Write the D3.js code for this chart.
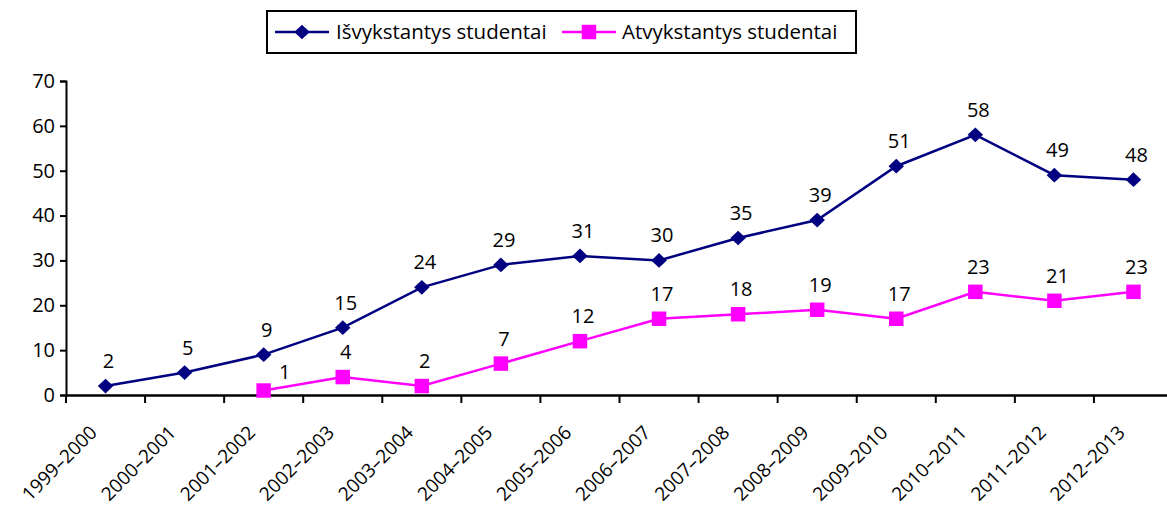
<!DOCTYPE html>
<html><head><meta charset="utf-8">
<script src="https://cdn.jsdelivr.net/npm/d3@7/dist/d3.min.js"></script>
<style>body{margin:0;background:#fff}svg{display:block}text{font-family:"Open Sans","Noto Sans",sans-serif;fill:#000}</style>
</head><body><svg id="c" width="1167" height="510"></svg>
<script>
const categories = ["1999–2000","2000–2001","2001–2002","2002–2003","2003–2004","2004–2005","2005–2006","2006–2007","2007–2008","2008–2009","2009–2010","2010–2011","2011–2012","2012–2013"];
const outgoing = [2,5,9,15,24,29,31,30,35,39,51,58,49,48];
const incoming = [null,null,1,4,2,7,12,17,18,19,17,23,21,23];
const seriesNames = ["Išvykstantys studentai","Atvykstantys studentai"];
const yTicks = [0,10,20,30,40,50,60,70];

(function(){
const svg = d3.select("#c");
const mLeft = 66, mRight = 1173, mTop = 81, mBottom = 395;
const x = d3.scaleBand().domain(categories).range([mLeft, mRight]);
const y = d3.scaleLinear().domain([0,70]).range([mBottom, mTop]);
const navy = "#000080", mag = "#FF00FF";
const fs = 20;

const diamond = {draw(ctx, size){ const r = Math.sqrt(size)/2; ctx.moveTo(0,-r*0.95); ctx.lineTo(r,0); ctx.lineTo(0,r*0.95); ctx.lineTo(-r,0); ctx.closePath(); }};
const square = {draw(ctx, size){ const r = Math.sqrt(size)/2; ctx.rect(-r,-r,2*r,2*r); }};

// y axis
const ya = svg.append("g").attr("transform",`translate(${mLeft},0)`)
  .call(d3.axisLeft(y).tickValues(yTicks).tickSize(6).tickPadding(5).tickFormat(d3.format("d")));
ya.select(".domain").attr("stroke","#000").attr("stroke-width",2);
ya.selectAll(".tick line").attr("stroke","#000").attr("stroke-width",2);
ya.selectAll(".tick text").style("font-size",fs+"px").attr("font-family","Open Sans").attr("fill","#000");

// x axis
const xa = svg.append("g").attr("transform",`translate(0,${mBottom})`)
  .call(d3.axisBottom(x).tickSize(0).tickFormat(""));
xa.select(".domain").attr("stroke","#000").attr("stroke-width",2.5);
xa.selectAll(".tick").remove();
const bounds = categories.map(c=>x(c));
svg.append("g").selectAll("line").data(bounds).join("line")
  .attr("x1",d=>d).attr("x2",d=>d).attr("y1",mBottom).attr("y2",mBottom+8)
  .attr("stroke","#000").attr("stroke-width",2);
svg.append("g").selectAll("text").data(categories).join("text")
  .attr("transform",d=>`translate(${x(d)+x.bandwidth()/2-12},${mBottom+34}) rotate(-45)`)
  .attr("text-anchor","end").attr("dy","0.35em")
  .style("font-size","19px").text(d=>d);

const cx = d=>x(d)+x.bandwidth()/2;
const labelDx = {"Atvykstantys studentai|2001–2002": 18};

function drawSeries(name, vals, color, shape, size){
  const pts = categories.map((c,i)=>({c, v:vals[i]})).filter(d=>d.v!==null);
  const line = d3.line().x(d=>cx(d.c)).y(d=>y(d.v));
  svg.append("path").datum(pts).attr("d",line).attr("fill","none")
    .attr("stroke",color).attr("stroke-width",2.5);
  const sym = d3.symbol().type(shape).size(size);
  svg.append("g").selectAll("path").data(pts).join("path")
    .attr("d",sym).attr("transform",d=>`translate(${cx(d.c)},${y(d.v)})`)
    .attr("fill",color);
  svg.append("g").selectAll("text").data(pts).join("text")
    .attr("x",d=>cx(d.c)+3+(labelDx[name+"|"+d.c]||0))
    .attr("y",d=>y(d.v)-(labelDx[name+"|"+d.c]?12:18))
    .attr("text-anchor","middle").style("font-size",fs+"px").text(d=>d.v);
}
drawSeries(seriesNames[0], outgoing, navy, diamond, 240);
drawSeries(seriesNames[1], incoming, mag, square, 210);

// legend
const lg = svg.append("g");
lg.append("rect").attr("x",267).attr("y",11).attr("width",589).attr("height",42)
  .attr("fill","#fff").attr("stroke","#000").attr("stroke-width",2);
const legendItems = [{name:seriesNames[0],color:navy,shape:diamond,size:240,x0:275,tx:336},{name:seriesNames[1],color:mag,shape:square,size:210,x0:562,tx:622}];
legendItems.forEach(it=>{
  lg.append("line").attr("x1",it.x0).attr("x2",it.x0+54).attr("y1",32).attr("y2",32)
    .attr("stroke",it.color).attr("stroke-width",2.5);
  lg.append("path").attr("d",d3.symbol().type(it.shape).size(it.size)())
    .attr("transform",`translate(${it.x0+27},32)`)
    .attr("fill",it.color);
  lg.append("text").attr("x",it.tx).attr("y",32).attr("dy","0.35em")
    .style("font-size","20.5px").text(it.name);
});
})();
</script></body></html>
